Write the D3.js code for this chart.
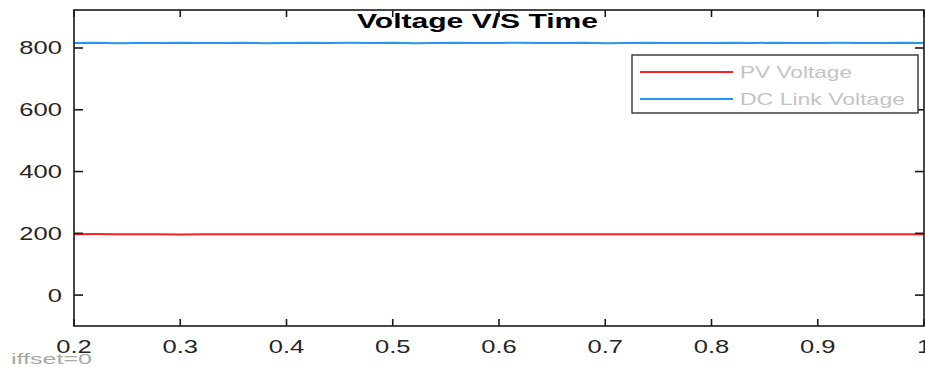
<!DOCTYPE html>
<html><head><meta charset="utf-8">
<script src="https://cdn.jsdelivr.net/npm/d3@7/dist/d3.min.js"></script>
<style>body{margin:0;background:#fff}svg{display:block}</style>
</head><body>
<svg id="c" width="925" height="367"></svg>
<script>
const timeValues = [0.20,0.22,0.24,0.26,0.28,0.30,0.32,0.34,0.36,0.38,0.40,0.42,0.44,0.46,0.48,0.50,0.52,0.54,0.56,0.58,0.60,0.62,0.64,0.66,0.68,0.70,0.72,0.74,0.76,0.78,0.80,0.82,0.84,0.86,0.88,0.90,0.92,0.94,0.96,0.98,1.00];
const pvVoltage = [197,197.5,196.8,197.2,197,196.6,197.3,197,196.9,197.4,197,196.7,197.2,197.1,196.8,197,197.3,196.9,197.1,197,196.8,197.2,197,196.9,197.3,197,196.8,197.1,197.2,196.9,197,197.3,196.8,197,197.1,196.9,197.2,197,196.8,197.1,197];
const dcLinkVoltage = [816,817,815.5,816.5,816,817.2,815.8,816.3,817,815.6,816.4,817.1,815.9,816.6,816,817.3,815.7,816.2,816.9,815.8,816.5,817,815.9,816.3,816.8,815.7,816.4,817.2,816,816.5,815.8,816.9,816.2,817,815.9,816.4,816.8,815.8,816.3,817,816];
const xTicks = [0.2,0.3,0.4,0.5,0.6,0.7,0.8,0.9,1];
const yTicks = [0,200,400,600,800];
const seriesNames = ["PV Voltage","DC Link Voltage"];
const seriesColors = ["#ff1f1f","#2196f3"];
const titleText = "Voltage V/S Time";
const footText = "iffset=0";

const svg = d3.select("#c");
const L=74, R=924, T=10, B=326;
const x = d3.scaleLinear().domain([0.2,1.0]).range([L,R]);
const y = d3.scaleLinear().domain([-100,923]).range([B,T]);
const SX = 1.42;
const font = "'Liberation Sans', Arial, sans-serif";

// lines
const line = d3.line().x((d,i)=>x(timeValues[i])).y(d=>y(d));
[pvVoltage, dcLinkVoltage].forEach((s,k)=>{
  svg.append("path").datum(s).attr("d",line).attr("fill","none")
    .attr("stroke",seriesColors[k]).attr("stroke-width",2);
});

// axes box
const g = svg.append("g");
g.append("rect").attr("x",L).attr("y",T).attr("width",R-L).attr("height",B-T)
  .attr("fill","none").attr("stroke","#1a1a1a").attr("stroke-width",1.6);

xTicks.forEach(t=>{
  const px = x(t);
  g.append("line").attr("x1",px).attr("x2",px).attr("y1",B).attr("y2",B-7).attr("stroke","#1a1a1a").attr("stroke-width",1.6);
  g.append("line").attr("x1",px).attr("x2",px).attr("y1",T).attr("y2",T+7).attr("stroke","#1a1a1a").attr("stroke-width",1.6);
  g.append("text").attr("transform",`translate(${px},353) scale(${SX},1)`)
    .attr("text-anchor","middle").attr("font-family",font).attr("font-size",18)
    .attr("fill","#262626").text(d3.format("")(t));
});
yTicks.forEach(t=>{
  const py = y(t);
  g.append("line").attr("x1",L).attr("x2",L+9).attr("y1",py).attr("y2",py).attr("stroke","#1a1a1a").attr("stroke-width",1.6);
  g.append("line").attr("x1",R).attr("x2",R-9).attr("y1",py).attr("y2",py).attr("stroke","#1a1a1a").attr("stroke-width",1.6);
  g.append("text").attr("transform",`translate(62,${py+6.5}) scale(${SX},1)`)
    .attr("text-anchor","end").attr("font-family",font).attr("font-size",18)
    .attr("fill","#262626").text(t);
});

// title
svg.append("text").attr("x",357).attr("y",28).attr("textLength",241).attr("lengthAdjust","spacingAndGlyphs")
  .attr("font-family",font).attr("font-size",21)
  .attr("font-weight","bold").attr("fill","#000").text(titleText);

// legend
const lg = svg.append("g");
lg.append("rect").attr("x",632).attr("y",55).attr("width",286).attr("height",58)
  .attr("fill","#fff").attr("stroke","#333").attr("stroke-width",1.4);
const legLens = [112,165];
seriesNames.forEach((n,k)=>{
  const ly = 72 + k*27;
  lg.append("line").attr("x1",640).attr("x2",733).attr("y1",ly).attr("y2",ly)
    .attr("stroke",seriesColors[k]).attr("stroke-width",2);
  lg.append("text").attr("x",740).attr("y",ly+6).attr("textLength",legLens[k]).attr("lengthAdjust","spacingAndGlyphs")
    .attr("font-family",font).attr("font-size",17).attr("fill","#c4c4c4").text(n);
});

// clipped footnote
svg.append("text").attr("x",11).attr("y",364).attr("textLength",81).attr("lengthAdjust","spacingAndGlyphs")
  .attr("font-family",font).attr("font-size",15).attr("fill","#a8a8a8").text(footText);
</script>
</body></html>
